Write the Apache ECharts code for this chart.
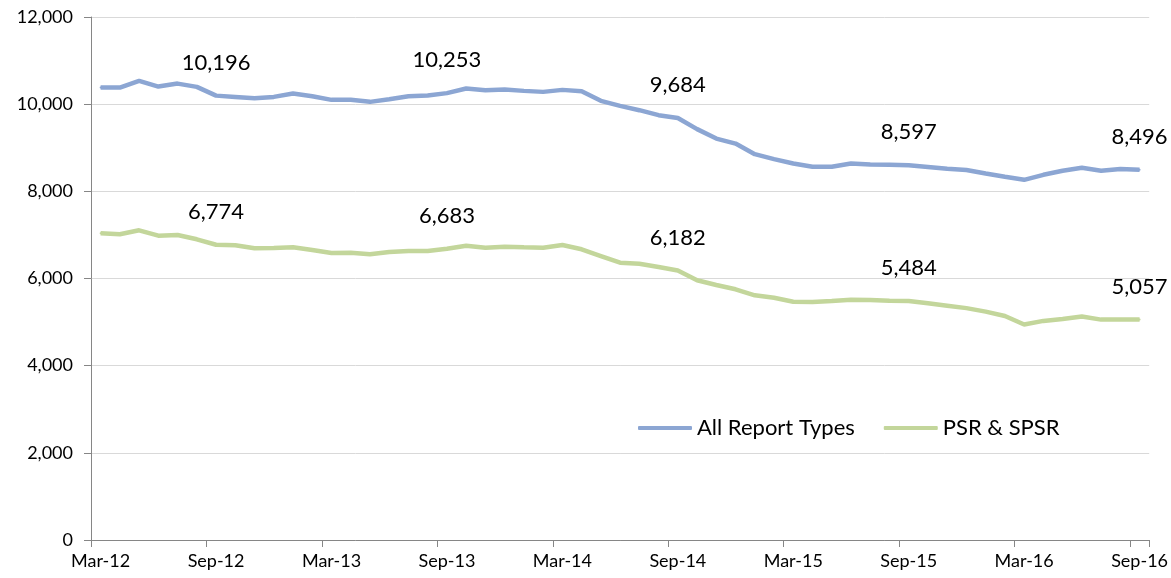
<!DOCTYPE html>
<html>
<head>
<meta charset="utf-8">
<script src="https://cdn.jsdelivr.net/npm/echarts@6/dist/echarts.min.js"></script>
<style>
html,body{margin:0;padding:0;background:#fff;}
#chart{width:1171px;height:578px;}
</style>
</head>
<body>
<div id="chart"></div>
<script>
const categories = [
 'Mar-12','Apr-12','May-12','Jun-12','Jul-12','Aug-12','Sep-12','Oct-12','Nov-12','Dec-12','Jan-13','Feb-13',
 'Mar-13','Apr-13','May-13','Jun-13','Jul-13','Aug-13','Sep-13','Oct-13','Nov-13','Dec-13','Jan-14','Feb-14',
 'Mar-14','Apr-14','May-14','Jun-14','Jul-14','Aug-14','Sep-14','Oct-14','Nov-14','Dec-14','Jan-15','Feb-15',
 'Mar-15','Apr-15','May-15','Jun-15','Jul-15','Aug-15','Sep-15','Oct-15','Nov-15','Dec-15','Jan-16','Feb-16',
 'Mar-16','Apr-16','May-16','Jun-16','Jul-16','Aug-16','Sep-16'
];
const allReportTypes = [
 10381,10381,10534,10404,10472,10397,10196,10167,10138,10167,10243,10183,
 10099,10099,10053,10115,10183,10197,10253,10358,10321,10335,10305,10282,
 10328,10298,10076,9961,9862,9748,9684,9427,9211,9096,8853,8739,
 8638,8562,8562,8640,8615,8610,8597,8560,8520,8490,8411,8335,
 8264,8379,8471,8540,8471,8510,8496
];
const psrSpsr = [
 7037,7014,7106,6982,6998,6899,6774,6761,6693,6700,6716,6654,
 6585,6592,6555,6608,6631,6631,6683,6750,6706,6729,6716,6706,
 6768,6670,6516,6362,6339,6264,6182,5959,5851,5752,5615,5560,
 5468,5461,5484,5510,5505,5490,5484,5430,5375,5320,5240,5140,
 4945,5027,5073,5130,5057,5057,5057
];
const labelIndices = [6,18,30,42,54];
const seriesNames = ['All Report Types','PSR & SPSR'];
const yTicks = [0,2000,4000,6000,8000,10000,12000];

const FONT = 'Lato';
const fmt = v => Number(v).toLocaleString('en-US');
function buildData(arr){
  return arr.map((v,i)=> labelIndices.includes(i)
    ? {value:v,label:{show:true}}
    : {value:v});
}
const chart = echarts.init(document.getElementById('chart'),null,{renderer:'canvas'});
const colors = ['#8CA6D3','#C3D69B'];
const labelStyle = {
  show:false, position:'top', distance:21, color:'#000',
  fontFamily:FONT, fontSize:22, formatter:p=>fmt(p.value)
};
chart.setOption({
  animation:false,
  textStyle:{fontFamily:FONT},
  grid:{left:91,right:19,top:17,bottom:38,containLabel:false},
  legend:{
    left:633, top:412,
    itemWidth:54, itemHeight:4, itemGap:29,
    icon:'roundRect',
    textStyle:{fontFamily:FONT,fontSize:22,color:'#000'},
    data:seriesNames
  },
  xAxis:{
    type:'category', data:categories, boundaryGap:true,
    axisLine:{lineStyle:{color:'#868686',width:1}},
    axisTick:{show:true,interval:5,length:7,lineStyle:{color:'#868686'}},
    axisLabel:{interval:5,color:'#000',fontFamily:FONT,fontSize:18,margin:12},
    splitLine:{show:false}
  },
  yAxis:{
    type:'value', min:yTicks[0], max:yTicks[yTicks.length-1], interval:2000,
    axisLine:{show:true,lineStyle:{color:'#868686',width:1}},
    axisTick:{show:true,length:7,lineStyle:{color:'#868686'}},
    axisLabel:{color:'#000',fontFamily:FONT,fontSize:18,margin:18,formatter:v=>fmt(v)},
    splitLine:{show:true,lineStyle:{color:'#D9D9D9',width:1}}
  },
  series:[
    {name:seriesNames[0],type:'line',data:buildData(allReportTypes),
     color:colors[0],symbol:'circle',symbolSize:2,showSymbol:true,
     itemStyle:{color:colors[0]},
     lineStyle:{width:4.5,color:colors[0]},label:labelStyle},
    {name:seriesNames[1],type:'line',data:buildData(psrSpsr),
     color:colors[1],symbol:'circle',symbolSize:2,showSymbol:true,
     itemStyle:{color:colors[1]},
     lineStyle:{width:4.5,color:colors[1]},label:labelStyle}
  ]
});
</script>
</body>
</html>
